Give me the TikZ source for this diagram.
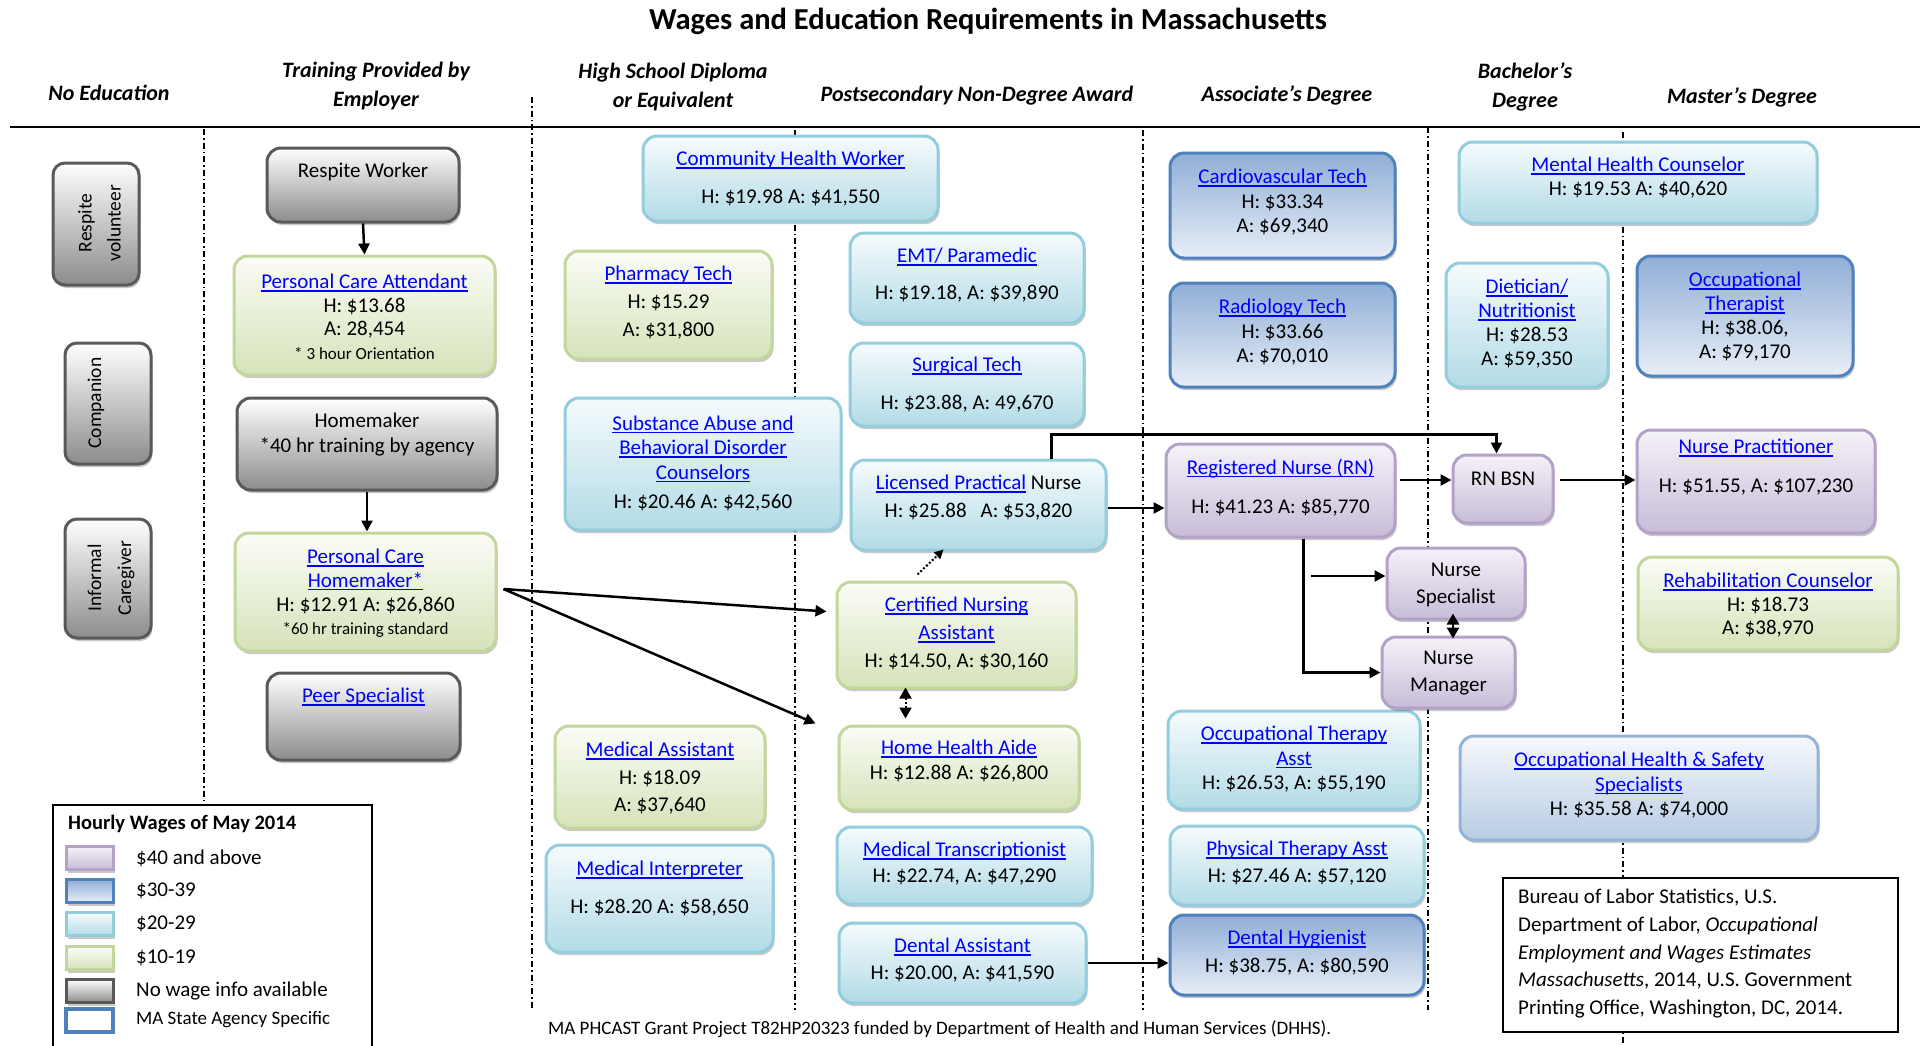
\documentclass[tikz,border=0pt]{standalone}
\usepackage{fontspec}
\setmainfont{Carlito}
\usetikzlibrary{arrows.meta,shadows,calc}
\definecolor{lnk}{HTML}{0000FF}
\definecolor{grayB}{HTML}{595959}\definecolor{grayBot}{HTML}{8C8C8C}
\definecolor{grnB}{HTML}{C3D69B}\definecolor{grnTop}{HTML}{FBFCF7}\definecolor{grnBot}{HTML}{D5E3B9}
\definecolor{lbB}{HTML}{93CDDD}\definecolor{lbTop}{HTML}{F6FBFD}\definecolor{lbBot}{HTML}{B2DBE6}
\definecolor{dbB}{HTML}{4F81BD}\definecolor{dbTop}{HTML}{90AED6}\definecolor{dbBot}{HTML}{E8EEF7}
\definecolor{puB}{HTML}{B3A2C7}\definecolor{puTop}{HTML}{F5F2F8}\definecolor{puBot}{HTML}{C8BCD8}
\definecolor{mbB}{HTML}{95B3D7}\definecolor{mbTop}{HTML}{F6F8FC}\definecolor{mbBot}{HTML}{B8CCE4}
\newcommand\lk[1]{\textcolor{lnk}{\setbox0=\hbox{#1}\rlap{\rule[-3pt]{\wd0}{1.5pt}}\box0}}
\newcommand\bx[6]{\node[#2, minimum width={#5-#3}, minimum height={#6-#4}] (#1) at ({(#3+#5)/2},{(#4+#6)/2}) {};}
\tikzset{
  bxbase/.style={rounded corners=14pt, line width=3pt, inner sep=0pt,
    drop shadow={shadow xshift=1.5pt, shadow yshift=-3pt, opacity=0.3, fill=black!70}},
  gbox/.style={bxbase, draw=grayB, top color=white, bottom color=grayBot},
  grbox/.style={bxbase, draw=grnB, top color=grnTop, bottom color=grnBot},
  lbbox/.style={bxbase, draw=lbB, top color=lbTop, bottom color=lbBot},
  dbbox/.style={bxbase, draw=dbB, top color=dbTop, bottom color=dbBot},
  pubox/.style={bxbase, draw=puB, top color=puTop, bottom color=puBot},
  mbbox/.style={bxbase, draw=mbB, top color=mbTop, bottom color=mbBot},
  sw/.style={sharp corners, minimum width=47, minimum height=23},
  txt/.style={align=center, inner sep=0pt, font=\fontsize{21}{25}\selectfont},
  lsk/.style={font=\fontsize{21}{#1}\selectfont},
  hdr/.style={align=center, inner sep=0pt, font=\fontsize{22}{29}\selectfont\bfseries\itshape},
  sep/.style={line width=1.5pt, dash pattern=on 6pt off 3pt on 1.5pt off 3pt},
  arr/.style={line width=2.5pt, -{Triangle[length=11pt,width=11pt]}},
  dot2/.style={line width=2pt, dash pattern=on 2pt off 2pt, {Triangle[length=11pt,width=12pt]}-{Triangle[length=11pt,width=12pt]}},
  dot1/.style={line width=2pt, dash pattern=on 2pt off 2pt, -{Triangle[length=9pt,width=9pt]}},
  sarr2/.style={line width=2.5pt, {Triangle[length=11pt,width=12pt]}-{Triangle[length=11pt,width=12pt]}}
}
\begin{document}
\begin{tikzpicture}[x=1pt,y=-1pt]
\useasboundingbox[fill=white] (0,0) rectangle (1927,1045);
% title and headers
\node[inner sep=0pt, font=\fontsize{30.5}{33}\selectfont\bfseries] (title) at (988,21) {Wages and Education Requirements in Massachusetts};
\node[hdr] (h1) at (109,93) {No Education};
\node[hdr] (h2) at (376,86) {Training Provided by\\Employer};
\node[hdr] (h3) at (673,87) {High School Diploma\\or Equivalent};
\node[hdr] (h4) at (977,96) {Postsecondary Non-Degree Award};
\node[hdr] (h5) at (1287,95) {Associate’s Degree};
\node[hdr] (h6) at (1525,87) {Bachelor’s\\Degree};
\node[hdr] (h7) at (1742,97) {Master’s Degree};
\draw[line width=2.5pt] (10,127) -- (1920,127);
% separators
\draw[sep] (204,129) -- (204,804);
\draw[sep] (532,97) -- (532,1010);
\draw[sep] (795,130) -- (795,1010);
\draw[sep] (1143,130) -- (1143,1010);
\draw[sep] (1428,127) -- (1428,1010);
\draw[sep] (1623,132) -- (1623,1045);
% gray boxes
\bx{rv}{gbox,rounded corners=12pt}{53}{163}{139}{285}
\bx{comp}{gbox,rounded corners=12pt}{65}{343}{151}{464}
\bx{ic}{gbox,rounded corners=12pt}{65}{519}{151}{638}
\bx{rw}{gbox}{267}{148}{459}{222}
\bx{hm}{gbox}{237}{398}{497}{490}
\bx{peer}{gbox}{267}{673}{460}{760}
% green
\bx{pca}{grbox}{234}{256}{495}{375}
\bx{pch}{grbox}{235}{533}{496}{651}
\bx{pharm}{grbox}{565}{251}{772}{359}
\bx{medasst}{grbox}{555}{726}{765}{828}
\bx{cna}{grbox}{837}{582}{1076}{688}
\bx{hha}{grbox}{839}{726}{1079}{810}
\bx{rehab}{grbox}{1638}{557}{1898}{650}
% light blue
\bx{chw}{lbbox}{643}{136}{938}{221}
\bx{sa}{lbbox}{565}{398}{841}{530}
\bx{medint}{lbbox}{546}{845}{773}{952}
\bx{emt}{lbbox}{850}{233}{1084}{323}
\bx{surg}{lbbox}{850}{343}{1084}{426}
\bx{lpn}{lbbox}{851}{460}{1106}{550}
\bx{mt}{lbbox}{837}{827}{1092}{904}
\bx{da}{lbbox}{839}{923}{1086}{1003}
\bx{ota}{lbbox}{1168}{711}{1420}{809}
\bx{pta}{lbbox}{1170}{826}{1424}{905}
\bx{mhc}{lbbox}{1459}{142}{1817}{223}
\bx{diet}{lbbox}{1446}{263}{1608}{387}
% dark blue
\bx{cvt}{dbbox}{1170}{153}{1395}{258}
\bx{rad}{dbbox}{1170}{283}{1395}{387}
\bx{dh}{dbbox}{1170}{915}{1424}{995}
\bx{ot}{dbbox}{1637}{256}{1853}{376}
% purple
\bx{rn}{pubox}{1166}{444}{1395}{537}
\bx{rnbsn}{pubox}{1453}{455}{1553}{523}
\bx{ns}{pubox}{1387}{548}{1525}{619}
\bx{nm}{pubox}{1382}{637}{1515}{708}
\bx{np}{pubox}{1637}{430}{1875}{533}
% medium blue
\bx{ohs}{mbbox}{1460}{736}{1818}{840}
% texts: no education
\node[txt, rotate=90, font=\fontsize{19.5}{29}\selectfont] (t-rv) at (99.5,223) {Respite\\volunteer};
\node[txt, rotate=90, font=\fontsize{19.5}{29}\selectfont] (t-comp) at (96,403) {Companion};
\node[txt, rotate=90, font=\fontsize{19.5}{30}\selectfont] (t-ic) at (111,578) {Informal\\Caregiver};
% training
\node[txt] (t-rw) at (363,172) {Respite Worker};
\node[txt, lsk=23.5] (t-pca) at (364.5,317) {\lk{Personal Care Attendant}\\H: \$13.68\\A: 28,454\\{\fontsize{17}{23.5}\selectfont * 3 hour Orientation}};
\node[txt, lsk=25] (t-hm) at (367,434.5) {Homemaker\\*40 hr training by agency};
\node[txt, lsk=23.7] (t-pch) at (365.5,593.5) {\lk{Personal Care}\\\lk{Homemaker*}\\H: \$12.91 A: \$26,860\\{\fontsize{17}{23.7}\selectfont *60 hr training standard}};
\node[txt] (t-peer) at (363.5,697) {\lk{Peer Specialist}};
% high school
\node[txt, lsk=38] (t-chw) at (790.5,179) {\lk{Community Health Worker}\\H: \$19.98 A: \$41,550};
\node[txt, lsk=28] (t-pharm) at (668.5,303) {\lk{Pharmacy Tech}\\H: \$15.29\\A: \$31,800};
\node[txt, lsk=24.5] (t-sa) at (703,463.5) {\lk{Substance Abuse and}\\\lk{Behavioral Disorder}\\\lk{Counselors}\\[5pt]H: \$20.46 A: \$42,560};
\node[txt, lsk=27.5] (t-medasst) at (660,778.5) {\lk{Medical Assistant}\\H: \$18.09\\A: \$37,640};
\node[txt, lsk=38] (t-medint) at (659.5,889) {\lk{Medical Interpreter}\\H: \$28.20 A: \$58,650};
% postsecondary
\node[txt, lsk=37] (t-emt) at (967,275.5) {\lk{EMT/ Paramedic}\\H: \$19.18, A: \$39,890};
\node[txt, lsk=38] (t-surg) at (967,385) {\lk{Surgical Tech}\\H: \$23.88, A: 49,670};
\node[txt, lsk=28] (t-lpn) at (978.5,498) {\lk{Licensed Practical} Nurse\\H: \$25.88\hspace*{14pt}A: \$53,820};
\node[txt, lsk=28] (t-cna) at (956.5,634) {\lk{Certified Nursing}\\\lk{Assistant}\\H: \$14.50, A: \$30,160};
\node[txt, lsk=25] (t-hha) at (959,761.5) {\lk{Home Health Aide}\\H: \$12.88 A: \$26,800};
\node[txt, lsk=26] (t-mt) at (964.5,864) {\lk{Medical Transcriptionist}\\H: \$22.74, A: \$47,290};
\node[txt, lsk=27] (t-da) at (962.5,960.5) {\lk{Dental Assistant}\\H: \$20.00, A: \$41,590};
% associate
\node[txt, lsk=24.5] (t-cvt) at (1282.5,202.5) {\lk{Cardiovascular Tech}\\H: \$33.34\\A: \$69,340};
\node[txt, lsk=24.5] (t-rad) at (1282.5,332.5) {\lk{Radiology Tech}\\H: \$33.66\\A: \$70,010};
\node[txt, lsk=39] (t-rn) at (1280.5,487.5) {\lk{Registered Nurse (RN)}\\H: \$41.23 A: \$85,770};
\node[txt, lsk=24.5] (t-ota) at (1294,759.5) {\lk{Occupational Therapy}\\\lk{Asst}\\H: \$26.53, A: \$55,190};
\node[txt, lsk=27] (t-pta) at (1297,863.5) {\lk{Physical Therapy Asst}\\H: \$27.46 A: \$57,120};
\node[txt, lsk=28] (t-dh) at (1297,953) {\lk{Dental Hygienist}\\H: \$38.75, A: \$80,590};
% nursing
\node[txt] (t-rnbsn) at (1503,479) {RN BSN};
\node[txt, lsk=27] (t-ns) at (1456,584.5) {Nurse\\Specialist};
\node[txt, lsk=27] (t-nm) at (1448.5,673.5) {Nurse\\Manager};
% bachelor / master
\node[txt, lsk=24] (t-mhc) at (1638,178) {\lk{Mental Health Counselor}\\H: \$19.53 A: \$40,620};
\node[txt, lsk=24] (t-diet) at (1527,324) {\lk{Dietician/}\\\lk{Nutritionist}\\H: \$28.53\\A: \$59,350};
\node[txt, lsk=24] (t-ot) at (1745,317) {\lk{Occupational}\\\lk{Therapist}\\H: \$38.06,\\A: \$79,170};
\node[txt, lsk=39] (t-np) at (1756,467.5) {\lk{Nurse Practitioner}\\H: \$51.55, A: \$107,230};
\node[txt, lsk=23.5] (t-rehab) at (1768,605.5) {\lk{Rehabilitation Counselor}\\H: \$18.73\\A: \$38,970};
\node[txt, lsk=24.5] (t-ohs) at (1639,785.5) {\lk{Occupational Health \& Safety}\\\lk{Specialists}\\H: \$35.58 A: \$74,000};
% connectors
\draw[arr] (rw.south) -- (pca.north);
\draw[arr] (hm.south) -- (hm.south |- pch.north);
\draw[arr] ($(pch.east)+(6,-3)$) -- ($(cna.north west)+(-9,31)$);
\draw[arr] ($(pch.east)+(6,-3)$) -- ($(hha.north west)+(-22,-1)$);
\draw[dot1] ($(cna.north west)+(82,-6)$) -- ($(lpn.south west)+(94,-2)$);
\draw[dot2] ($(cna.south west)+(70,-2)$) -- ($(hha.north west)+(68,-6)$);
\draw[arr] ($(lpn.east)+(0,3)$) -- ($(rn.west)+(0,17.5)$);
\draw[arr] ($(lpn.north west)+(202,0)$) |- ($(rnbsn.north west)+(45,-19)$) -- ($(rnbsn.north west)+(45,0)$);
\draw[arr] ($(rn.east)+(3,-10.5)$) -- ($(rnbsn.west)+(0,-9)$);
\draw[arr] ($(rnbsn.east)+(5,-9)$) -- ($(np.west)+(0,-1.5)$);
\draw[arr] ($(rn.south west)+(139,0)$) |- (nm.west);
\coordinate (nsin) at ($(ns.west)+(-75,-7.5)$);
\draw[arr] (nsin) -- ($(ns.west)+(0,-7.5)$);
\draw[sarr2] ($(ns.south)+(-3,-7)$) -- ($(nm.north)+(4.5,3)$);
\draw[arr] (da.east |- 0,963) -- (dh.west |- 0,963);
% legend
\draw[line width=2pt] (53,1046) -- (53,805) -- (372,805) -- (372,1046);
\node[anchor=west, inner sep=0pt, font=\fontsize{20.5}{24}\selectfont\bfseries] (lgt) at (68,824) {Hourly Wages of May 2014};
\node[pubox, sw] (lg1) at (89.5,858) {};
\node[dbbox, sw] (lg2) at (89.5,891) {};
\node[lbbox, sw] (lg3) at (89.5,924) {};
\node[grbox, sw] (lg4) at (89.5,958) {};
\node[gbox, sw] (lg5) at (89.5,991) {};
\node[sw, draw=dbB, line width=4pt, fill=white, inner sep=0pt] (lg6) at (89.5,1020) {};
\node[anchor=west, inner sep=0pt, font=\fontsize{21}{24}\selectfont] (lx1) at (136,858) {\$40 and above};
\node[anchor=west, inner sep=0pt, font=\fontsize{21}{24}\selectfont] (lx2) at (136,891) {\$30-39};
\node[anchor=west, inner sep=0pt, font=\fontsize{21}{24}\selectfont] (lx3) at (136,924) {\$20-29};
\node[anchor=west, inner sep=0pt, font=\fontsize{21}{24}\selectfont] (lx4) at (136,958) {\$10-19};
\node[anchor=west, inner sep=0pt, font=\fontsize{21}{24}\selectfont] (lx5) at (136,991) {No wage info available};
\node[anchor=west, inner sep=0pt, font=\fontsize{19}{24}\selectfont] (lx6) at (136,1020) {MA State Agency Specific};
% reference box
\node[draw, fill=white, line width=2pt, minimum width=395, minimum height=154, inner sep=0pt] (refbox) at (1700.5,955) {};
\node[anchor=west, align=left, inner sep=0pt, font=\fontsize{21}{27.8}\selectfont] (t-ref) at (1518,953.5) {Bureau of Labor Statistics, U.S.\\Department of Labor, \textit{Occupational}\\\textit{Employment and Wages Estimates}\\\textit{Massachusetts}, 2014, U.S. Government\\Printing Office, Washington, DC, 2014.};
% footer
\node[anchor=west, inner sep=0pt, font=\fontsize{19}{22}\selectfont] (foot) at (548,1029) {MA PHCAST Grant Project T82HP20323 funded by Department of Health and Human Services (DHHS).};
\end{tikzpicture}
\end{document}
